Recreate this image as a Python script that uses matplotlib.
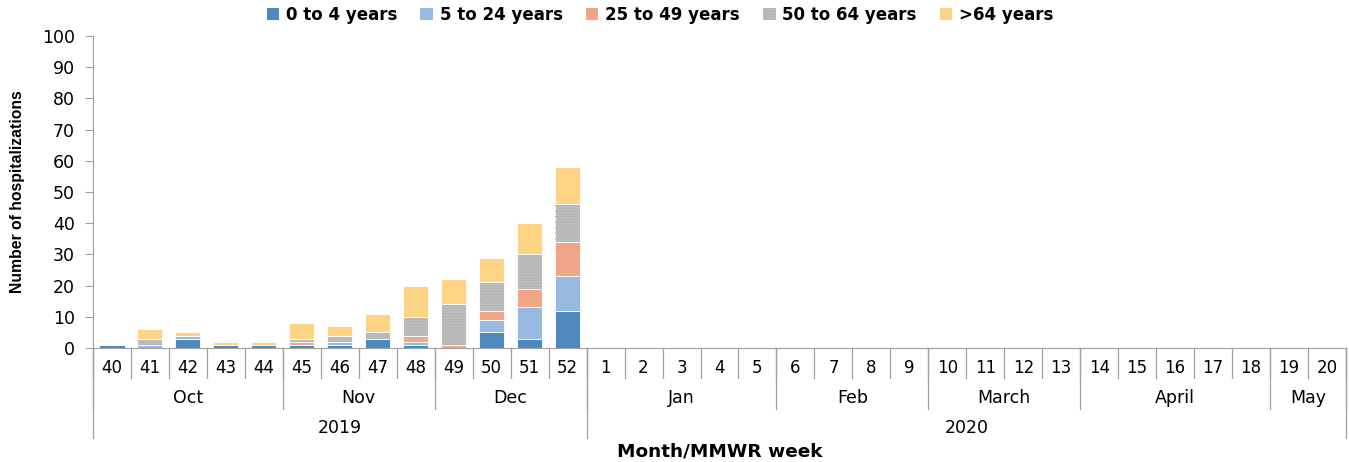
import numpy as np
import matplotlib
matplotlib.use("Agg")
import matplotlib.pyplot as plt
from matplotlib.patches import Patch
import matplotlib.transforms as mtransforms

# MMWR weeks from Oct 2019 to May 2020
weeks = ["40", "41", "42", "43", "44", "45", "46", "47", "48", "49", "50", "51", "52",
         "1", "2", "3", "4", "5", "6", "7", "8", "9", "10", "11", "12", "13",
         "14", "15", "16", "17", "18", "19", "20"]
months = ["Oct", "Nov", "Dec", "Jan", "Feb", "March", "April", "May"]
month_weeks = [5, 4, 4, 5, 4, 4, 5, 2]
years = ["2019", "2020"]
year_weeks = [13, 20]

age_groups = ["0 to 4 years", "5 to 24 years", "25 to 49 years", "50 to 64 years", ">64 years"]
age_0_4 = [1, 0, 3, 1, 1, 1, 1, 3, 1, 0, 5, 3, 12]
age_5_24 = [0, 1, 1, 0, 0, 0, 1, 0, 1, 0, 4, 10, 11]
age_25_49 = [0, 0, 0, 0, 0, 1, 0, 0, 2, 1, 3, 6, 11]
age_50_64 = [0, 2, 0, 0, 0, 1, 2, 2, 6, 13, 9, 11, 12]
age_65 = [0, 3, 1, 1, 1, 5, 3, 6, 10, 8, 8, 10, 12]

colors = ["#4F88BD", "#98B9E0", "#F1A688", "#BEBEBE", "#FFD384"]

plt.rcParams["hatch.linewidth"] = 0.6

n = len(weeks)
series = [age_0_4, age_5_24, age_25_49, age_50_64, age_65]
series = [np.array(s + [0] * (n - len(s)), dtype=float) for s in series]

fig = plt.figure(figsize=(13.49, 4.62), dpi=100)
ax = fig.add_axes([93 / 1349, 1 - 348 / 462, (1346 - 93) / 1349, 312 / 462])

x = np.arange(n)
bottom = np.zeros(n)
for s, c, lab in zip(series, colors, age_groups):
    ax.bar(x, s, 0.66, bottom=bottom, color=c, edgecolor="white", linewidth=0.6, label=lab)
    if lab == "50 to 64 years":
        # fine dotted texture on the grey segments
        ax.bar(x, s, 0.64, bottom=bottom, facecolor="none", edgecolor="#ABABAB",
               linewidth=0, hatch="......")
    bottom += s

ax.set_xlim(-0.5, n - 0.5)
ax.set_ylim(0, 100)
ax.set_yticks(range(0, 101, 10))
ax.tick_params(axis="y", labelsize=12.5, length=6, color="#A0A0A0", pad=7)
ax.set_xticks([])
for sp in ["top", "right"]:
    ax.spines[sp].set_visible(False)
ax.spines["left"].set_color("#A0A0A0")
ax.spines["bottom"].set_color("#A0A0A0")

trans = mtransforms.blended_transform_factory(ax.transData, ax.transAxes)
h = 312.0
sep_kw = dict(color="#A0A0A0", lw=0.9, transform=trans, clip_on=False)

# week row
for i, w in enumerate(weeks):
    ax.text(i, -20 / h, w, ha="center", va="center", fontsize=12, transform=trans)
for i in range(n + 1):
    ax.plot([i - 0.5, i - 0.5], [0, -30 / h], **sep_kw)

# month row
pos = 0
for m, k in zip(months, month_weeks):
    ax.text(pos + k / 2 - 0.5, -50 / h, m, ha="center", va="center", fontsize=12.5, transform=trans)
    ax.plot([pos - 0.5, pos - 0.5], [0, -61 / h], **sep_kw)
    pos += k
ax.plot([pos - 0.5, pos - 0.5], [0, -61 / h], **sep_kw)

# year row
pos = 0
for yl, k in zip(years, year_weeks):
    ax.text(pos + k / 2 - 0.5, -80 / h, yl, ha="center", va="center", fontsize=12.5, transform=trans)
    ax.plot([pos - 0.5, pos - 0.5], [0, -90 / h], **sep_kw)
    pos += k
ax.plot([pos - 0.5, pos - 0.5], [0, -90 / h], **sep_kw)

fig.text(720 / 1349, 1 - 452 / 462, "Month/MMWR week", ha="center", va="center",
         fontsize=13.3, fontweight="bold")
fig.text(18 / 1349, 1 - 192 / 462, "Number of hospitalizations", ha="center", va="center",
         rotation=90, fontsize=11.3, fontweight="bold", family="Liberation Sans")

handles = [Patch(facecolor=c, hatch=("......" if lab == "50 to 64 years" else None),
                 edgecolor=("#ABABAB" if lab == "50 to 64 years" else c), linewidth=0)
           for c, lab in zip(colors, age_groups)]
fig.legend(handles, age_groups, loc="center", bbox_to_anchor=(660 / 1349, 1 - 15 / 462),
           ncol=5, frameon=False, handlelength=0.75, handleheight=0.75, handletextpad=0.4,
           columnspacing=1.4, prop=dict(size=12, weight="bold"))

fig.savefig("out.png", dpi=100)
